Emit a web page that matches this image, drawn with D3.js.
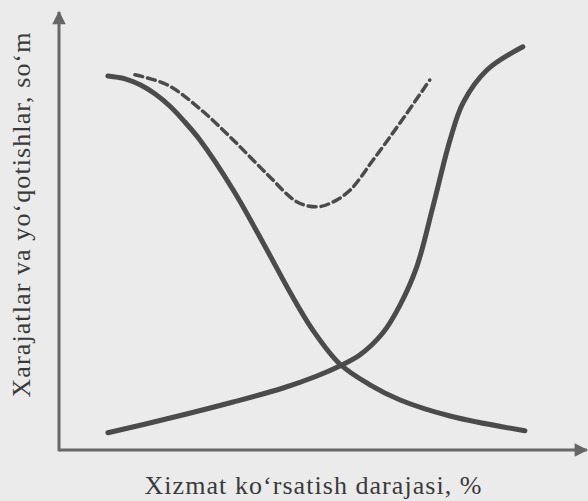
<!DOCTYPE html>
<html>
<head>
<meta charset="utf-8">
<script src="https://d3js.org/d3.v7.min.js"></script>
<style>
  body { margin: 0; background: #ebebeb; }
  svg { display: block; }
  .curve { fill: none; stroke: #4b4b4b; stroke-linecap: round; }
  .lbl { font-family: "Liberation Serif", "DejaVu Serif", serif; font-size: 26px; fill: #3a3a3a; }
</style>
</head>
<body>
<svg width="588" height="501"></svg>
<script>
// service level, % (x) and costs (y, relative units)
var levelDown = [9.4, 12.7, 15.6, 18.5, 21.3, 24.2, 27.1, 33.5, 40, 44.4, 48.8, 54, 59.8, 65.6, 75.2, 89.6];
var costDown  = [93.5, 92.8, 91.3, 89, 86, 82, 77.5, 65, 50, 39.5, 30, 21.5, 16.3, 12.5, 8.5, 4.8];

var levelUp = [9.4, 20.8, 33.5, 43.1, 49.6, 54, 57.9, 62.3, 65.6, 68.8, 71.9, 75.2, 77.7, 82.3, 89.2];
var costUp  = [4.3, 7.8, 12, 15.5, 18.5, 21, 23.8, 29.3, 36.3, 45.8, 60.8, 77.5, 86.8, 95, 100.8];

var levelTotal = [14.6, 20.8, 27.1, 33.5, 40, 45.8, 49.6, 52.7, 56, 60.4, 65.6, 71.3];
var costTotal  = [93.8, 91.3, 85.3, 77.5, 69, 62, 60.8, 62, 65, 72.5, 81.8, 92.5];

var xTitle = "Xizmat koʻrsatish darajasi, %";
var yTitle = "Xarajatlar va yoʻqotishlar, soʻm";

var svg = d3.select("svg");

var x = d3.scaleLinear().domain([0, 100]).range([59, 579]);
var y = d3.scaleLinear().domain([0, 100]).range([450, 50]);

var defs = svg.append("defs");
defs.append("marker")
    .attr("id", "arrow")
    .attr("viewBox", "0 0 10 10")
    .attr("refX", 9).attr("refY", 5)
    .attr("markerWidth", 5.5).attr("markerHeight", 4.5)
    .attr("markerUnits", "strokeWidth")
    .attr("orient", "auto")
  .append("path")
    .attr("d", "M0,0L10,5L0,10z")
    .attr("fill", "#666");

// axes with arrows
svg.append("line")
    .attr("x1", x(0)).attr("y1", y(-0.3))
    .attr("x2", x(0)).attr("y2", y(109.5))
    .attr("stroke", "#686868").attr("stroke-width", 3)
    .attr("marker-end", "url(#arrow)");

svg.append("line")
    .attr("x1", x(0)).attr("y1", y(0))
    .attr("x2", x(101.5)).attr("y2", y(0))
    .attr("stroke", "#686868").attr("stroke-width", 3)
    .attr("marker-end", "url(#arrow)");

var line = d3.line()
    .x(function(d) { return x(d[0]); })
    .y(function(d) { return y(d[1]); })
    .curve(d3.curveCatmullRom.alpha(0.5));

svg.append("path")
    .attr("class", "curve")
    .attr("d", line(d3.zip(levelDown, costDown)))
    .attr("stroke-width", 5);

svg.append("path")
    .attr("class", "curve")
    .attr("d", line(d3.zip(levelUp, costUp)))
    .attr("stroke-width", 5);

svg.append("path")
    .attr("class", "curve")
    .attr("d", line(d3.zip(levelTotal, costTotal)))
    .attr("stroke-width", 3.5)
    .attr("stroke-linecap", "butt")
    .attr("stroke-dasharray", "8,5");

// titles
svg.append("text")
    .attr("class", "lbl")
    .attr("x", 313).attr("y", 494)
    .attr("text-anchor", "middle")
    .attr("textLength", 337)
    .attr("lengthAdjust", "spacing")
    .text(xTitle);

svg.append("text")
    .attr("class", "lbl")
    .attr("transform", "translate(30,215) rotate(-90)")
    .attr("text-anchor", "middle")
    .attr("textLength", 365)
    .attr("lengthAdjust", "spacing")
    .text(yTitle);
</script>
</body>
</html>
